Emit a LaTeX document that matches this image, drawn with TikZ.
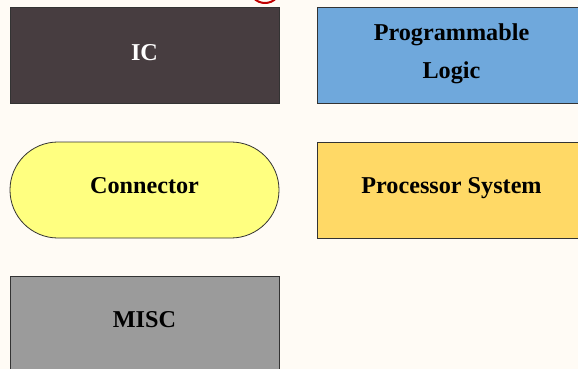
\documentclass[tikz,border=0pt]{standalone}
\usepackage{fontspec}
\setmainfont{Liberation Serif}
\definecolor{bgc}{HTML}{FFFBF5}
\definecolor{icc}{HTML}{473D40}
\definecolor{plc}{HTML}{6FA8DC}
\definecolor{conc}{HTML}{FFFF80}
\definecolor{psc}{HTML}{FFD966}
\definecolor{miscc}{HTML}{9B9B9B}
\definecolor{arcc}{HTML}{C00000}
\begin{document}
\begin{tikzpicture}[x=1pt,y=-1pt,
  blk/.style={draw=black!80,line width=0.8pt,minimum width=269pt,minimum height=96pt,inner sep=0pt,anchor=north west},
  lbl/.style={font=\bfseries\fontsize{24.2}{37.3}\selectfont,inner sep=0pt,anchor=base}]
\fill[bgc] (0,0) rectangle (578,369);
\useasboundingbox (0,0) rectangle (578,369);
\begin{scope}
\clip (0,0) rectangle (578,369);
\draw[arcc,line width=2pt] (265,-12.5) circle[radius=15.5];
\node[blk,fill=icc] (ic) at (10,7) {};
\node[lbl,text=white] (icl) at (144.5,61) {IC};
\node[blk,fill=plc] (pl) at (317,7) {};
\node[lbl] (pll1) at (451.5,41) {Programmable};
\node[lbl] (pll2) at (451.5,78.3) {Logic};
\draw[draw=black!80,line width=0.8pt,fill=conc,rounded corners=47.9pt] (10,142) rectangle (279,238);
\node[lbl] (con) at (144.5,193.3) {Connector};
\node[blk,fill=psc] (ps) at (317,142) {};
\node[lbl] (psl) at (451.5,193.3) {Processor System};
\node[blk,fill=miscc] (misc) at (10,276) {};
\node[lbl] (miscl) at (144.5,327.7) {MISC};
\end{scope}
\end{tikzpicture}
\end{document}
